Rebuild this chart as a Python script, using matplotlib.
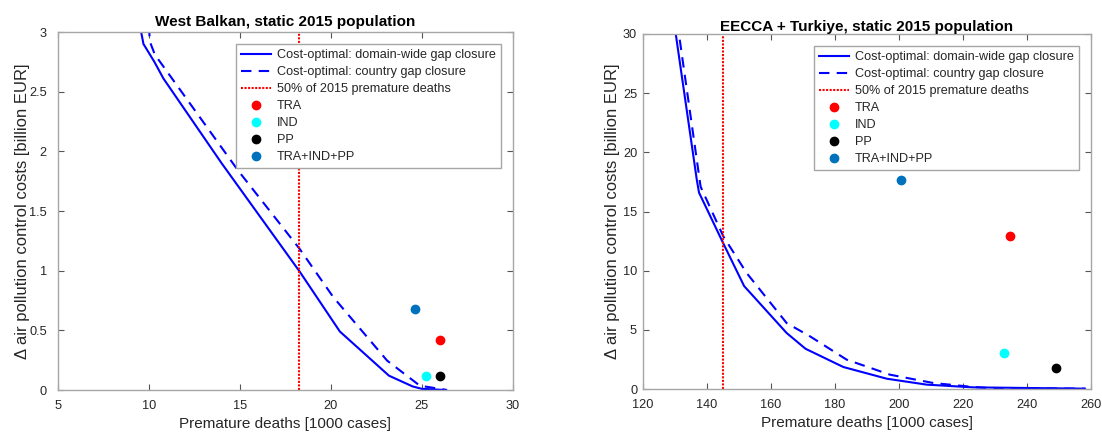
import matplotlib
matplotlib.use("Agg")
import matplotlib.pyplot as plt

plt.rcParams["font.family"] = ["Liberation Sans", "DejaVu Sans"]

# West Balkan
wb_opt_x = [9.45, 9.7, 10.3, 10.8, 14.0, 18.3, 20.5, 23.2, 24.5, 25.0, 26.3]
wb_opt_y = [3.1, 2.9, 2.75, 2.61, 1.9, 0.99, 0.49, 0.12, 0.03, 0.01, 0.0]
wb_cty_x = [9.95, 10.05, 10.33, 14.9, 18.3, 20.13, 23.1, 24.9, 26.4]
wb_cty_y = [3.2, 2.92, 2.81, 1.84, 1.18, 0.78, 0.246, 0.036, 0.0]
wb_half = 18.26
wb_tra = (26.0, 0.42)
wb_ind = (25.26, 0.12)
wb_pp = (26.0, 0.12)
wb_all = (24.65, 0.675)

# EECCA + Turkiye
ee_opt_x = [129.8, 136.9, 137.6, 145.2, 151.7, 165.0, 170.9, 182.7, 196.3, 208.75, 223.3, 258.2]
ee_opt_y = [31.0, 17.7, 16.6, 12.3, 8.7, 4.73, 3.4, 1.86, 0.87, 0.37, 0.14, 0.03]
ee_cty_x = [130.8, 138.1, 145.2, 152.5, 165.0, 172.3, 183.75, 197.3, 210.8, 223.3, 228.5, 258.2]
ee_cty_y = [31.0, 17.1, 12.9, 9.8, 5.57, 4.45, 2.48, 1.21, 0.51, 0.17, 0.08, 0.03]
ee_half = 145.0
ee_tra = (234.8, 12.95)
ee_ind = (232.8, 3.01)
ee_pp = (249.3, 1.75)
ee_all = (200.6, 17.65)

fig = plt.figure(figsize=(11.02, 4.32), dpi=100)
ax1 = fig.add_axes([0.0526, 0.0972, 0.4126, 0.8287])
ax2 = fig.add_axes([0.5832, 0.0995, 0.4065, 0.8218])

TXT = "#262626"


def draw(ax, ox, oy, cx, cy, half, tra, ind, pp, allp, title, title_pad, ypad, ylabpad,
         xlim, ylim, xt, yt, ytl):
    ax.plot(ox, oy, color="#0000ff", lw=1.5, label="Cost-optimal: domain-wide gap closure")
    ax.plot(cx, cy, color="#0000ff", lw=1.5, ls=(0, (5, 3.5)), label="Cost-optimal: country gap closure")
    ax.axvline(half, color="#ff0000", lw=1.5, ls=(0, (1, 0.7)), label="50% of 2015 premature deaths")
    ax.plot(*tra, "o", color="#ff0000", ms=6, label="TRA")
    ax.plot(*ind, "o", color="#00ffff", ms=6, label="IND")
    ax.plot(*pp, "o", color="#000000", ms=6, label="PP")
    ax.plot(*allp, "o", color="#0072bd", ms=6, label="TRA+IND+PP")
    ax.set_xlim(*xlim)
    ax.set_ylim(*ylim)
    ax.set_xticks(xt)
    ax.set_yticks(yt)
    ax.set_yticklabels(ytl)
    ax.tick_params(direction="in", top=True, right=True, length=4, width=0.8,
                   color="#555555", labelcolor=TXT, labelsize=9.2)
    ax.tick_params(axis="x", pad=7)
    ax.tick_params(axis="y", pad=ypad)
    for s in ax.spines.values():
        s.set_color("#a6a6a6")
        s.set_linewidth(1.0)
    ax.set_title(title, fontsize=11, fontweight="bold", color="black", pad=title_pad)
    ax.set_xlabel("Premature deaths [1000 cases]", fontsize=11, color=TXT, labelpad=4)
    ax.set_ylabel("\u0394 air pollution control costs [billion EUR]", fontsize=12, color=TXT,
                  labelpad=ylabpad)
    leg = ax.legend(loc="upper right", fontsize=9.1, frameon=True, fancybox=False, framealpha=1,
                    borderaxespad=0.95, handlelength=2.4, handletextpad=0.45,
                    labelspacing=0.4, borderpad=0.4)
    leg.get_frame().set_edgecolor("#a6a6a6")
    leg.get_frame().set_linewidth(1.0)
    for t in leg.get_texts():
        t.set_color(TXT)


draw(ax1, wb_opt_x, wb_opt_y, wb_cty_x, wb_cty_y, wb_half, wb_tra, wb_ind, wb_pp, wb_all,
     "West Balkan, static 2015 population", 4, 8, -0.5, (5, 30), (0, 3), [5, 10, 15, 20, 25, 30],
     [0, 0.5, 1, 1.5, 2, 2.5, 3], ["0", "0.5", "1", "1.5", "2", "2.5", "3"])
draw(ax2, ee_opt_x, ee_opt_y, ee_cty_x, ee_cty_y, ee_half, ee_tra, ee_ind, ee_pp, ee_all,
     "EECCA + Turkiye, static 2015 population", 2, 4, 1.8, (120, 260), (0, 30),
     [120, 140, 160, 180, 200, 220, 240, 260],
     [0, 5, 10, 15, 20, 25, 30], ["0", "5", "10", "15", "20", "25", "30"])

fig.savefig("out.png", dpi=100)
